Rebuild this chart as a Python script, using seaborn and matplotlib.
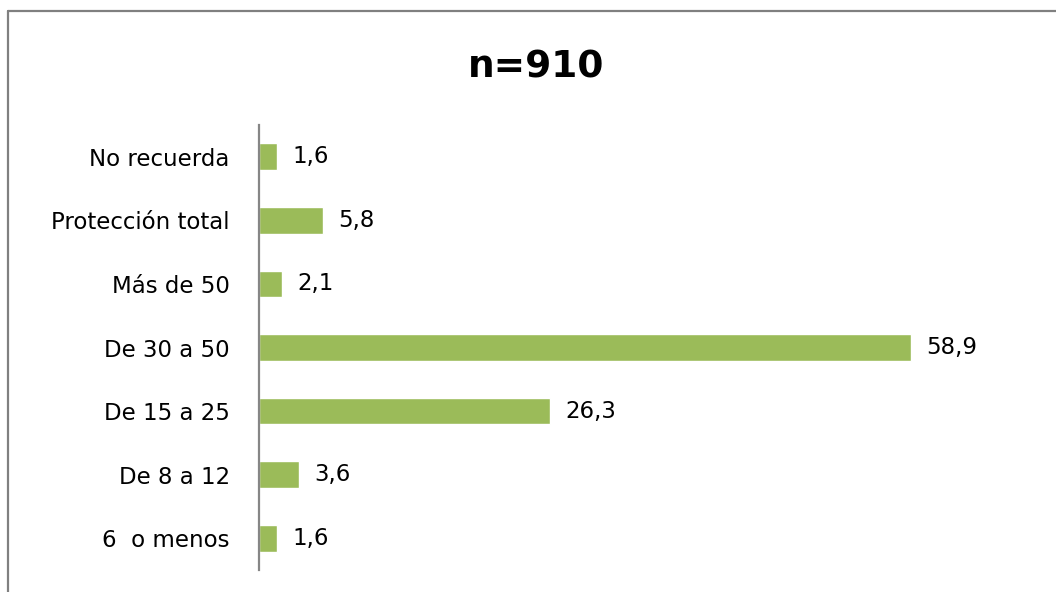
import matplotlib
matplotlib.use("Agg")
import matplotlib.pyplot as plt
from matplotlib.lines import Line2D
import seaborn as sns
import pandas as pd

# Factor de protección solar utilizado (%)
categorias = ["No recuerda", "Protección total", "Más de 50", "De 30 a 50",
              "De 15 a 25", "De 8 a 12", "6  o menos"]
porcentajes = [1.6, 5.8, 2.1, 58.9, 26.3, 3.6, 1.6]
titulo = "n=910"

df = pd.DataFrame({"categoria": categorias, "porcentaje": porcentajes})

sns.set_theme(style="white")
plt.rcParams["font.family"] = ["DejaVu Sans"]

fig = plt.figure(figsize=(10.56, 5.92), dpi=100)
ax = fig.add_axes([259 / 1056, 1 - 570 / 592, (1000 - 259) / 1056, (570 - 125) / 592])

sns.barplot(data=df, x="porcentaje", y="categoria", orient="h",
            color="#9BBB59", saturation=1, width=0.42, ax=ax)

ax.set_xlim(0, (1000 - 259) / 11.07)
ax.set_ylim(6.5, -0.5)
ax.set_xlabel("")
ax.set_ylabel("")
ax.set_xticks([])
for s in ["top", "right", "bottom"]:
    ax.spines[s].set_visible(False)
ax.spines["left"].set_color("#868686")
ax.spines["left"].set_linewidth(1.6)
ax.tick_params(axis="y", length=0, pad=21, labelsize=16.5, labelcolor="black")

for i, v in enumerate(porcentajes):
    ax.annotate(f"{v:.1f}".replace(".", ","), xy=(v, i), xytext=(11, 0),
                textcoords="offset points", ha="left", va="center",
                fontsize=16.5, color="black")

fig.text(536 / 1056, 1 - 67 / 592, titulo, ha="center", va="center",
         fontsize=27, fontweight="bold", color="black")

# Marco del gráfico
fig.add_artist(Line2D([8 / 1056, 8 / 1056], [0, 1 - 11 / 592],
                      transform=fig.transFigure, color="#808080", lw=1.6))
fig.add_artist(Line2D([8 / 1056, 1], [1 - 11 / 592, 1 - 11 / 592],
                      transform=fig.transFigure, color="#808080", lw=1.6))

fig.savefig("out.png", dpi=100, facecolor="white")
